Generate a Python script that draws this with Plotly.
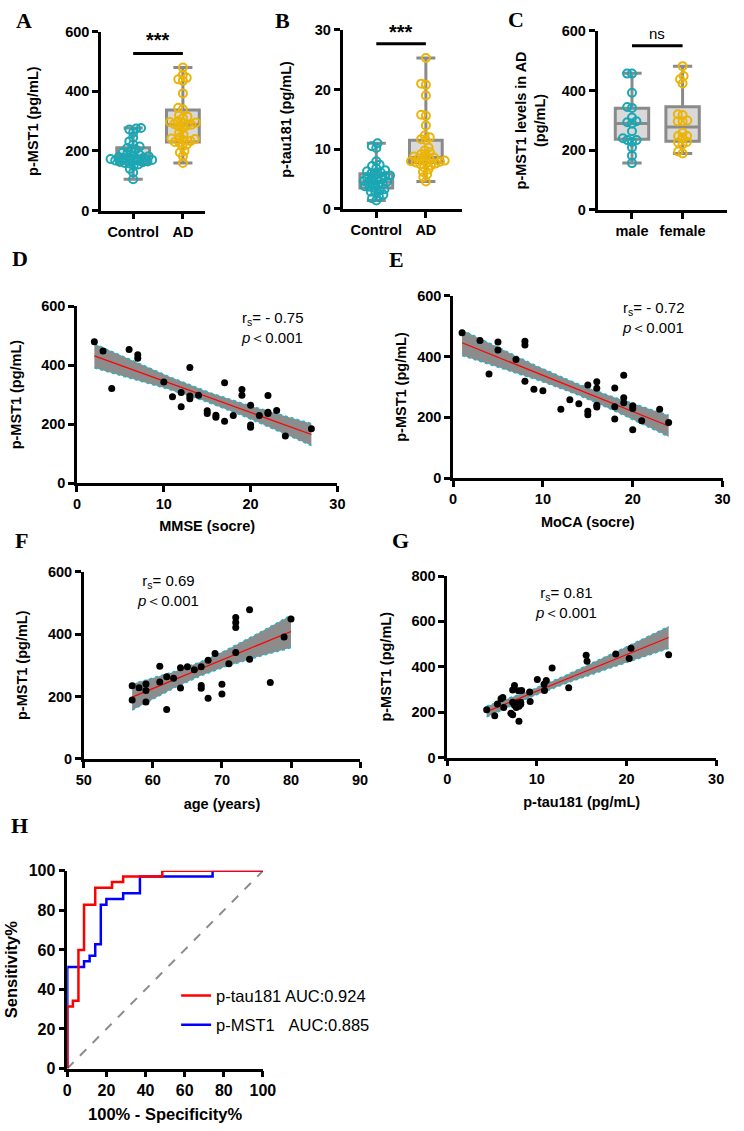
import numpy as np
import plotly.graph_objects as go

W, H = 744, 1131
FONT = "Arial, 'Liberation Sans', sans-serif"
SERIF = "'Times New Roman', 'Liberation Serif', serif"
TEAL = "#19A7B4"
YELLOW = "#EBB40A"
BOXLINE = "#8a8a8a"
BOXFILL = "#d9d9d9"

# ---------------- data ----------------
# Panel A: p-MST1 (pg/mL)
a_control = [277, 275, 272, 262, 245, 232, 222, 215, 210, 205, 200, 195, 190, 188, 185,
             182, 180, 178, 176, 175, 173, 172, 170, 168, 167, 165, 163, 162, 160, 158,
             155, 150, 140, 128, 105]
a_ad = [480, 455, 445, 440, 435, 393, 345, 340, 320, 315, 310, 300, 297, 295, 293, 290,
        288, 285, 282, 275, 262, 255, 245, 242, 240, 236, 233, 230, 228, 222, 215, 200,
        195, 182, 160]
a_box = {"q1": [157, 230], "median": [181, 288], "q3": [211, 337], "low": [105, 160], "high": [277, 480]}
a_cats = ["Control", "AD"]

# Panel B: p-tau181 (pg/mL)
b_control = [11.0, 10.5, 10.2, 8.0, 7.4, 7.2, 6.8, 6.5, 6.3, 6.1, 6.0, 5.8, 5.6, 5.5, 5.3,
             5.1, 5.0, 4.9, 4.7, 4.6, 4.5, 4.3, 4.2, 4.0, 3.8, 3.7, 3.5, 3.3, 3.1, 2.9,
             2.7, 2.4, 2.1, 1.8, 1.4]
b_ad = [25.3, 21.0, 20.8, 19.0, 15.8, 15.6, 14.0, 12.3, 12.0, 11.7, 11.5, 10.3, 9.8, 9.5,
        9.2, 9.0, 8.8, 8.6, 8.5, 8.4, 8.3, 8.1, 8.0, 7.9, 7.8, 7.7, 7.6, 7.5, 7.3, 7.0,
        6.6, 6.2, 5.8, 5.3, 4.6]
b_box = {"q1": [3.5, 7.8], "median": [4.5, 8.6], "q3": [5.9, 11.5], "low": [1.4, 4.6], "high": [11.0, 25.3]}

# Panel C: p-MST1 levels in AD by sex
c_male = [457, 457, 393, 345, 342, 310, 290, 294, 297, 264, 240, 234, 234, 228, 209, 182, 157]
c_female = [482, 449, 438, 424, 321, 318, 300, 297, 297, 259, 248, 248, 242, 228, 226, 220, 196, 189]
c_box = {"q1": [237, 230], "median": [290, 278], "q3": [341, 346], "low": [157, 189], "high": [458, 482]}
c_cats = ["male", "female"]

# Panel D: MMSE vs p-MST1
d_mmse = [2, 3, 4, 6, 7, 7, 10, 11, 12, 12, 13, 13, 13, 14, 15, 15, 16, 16, 17, 17, 18,
          19, 19, 20, 20, 20, 21, 22, 22, 22, 23, 24, 27]
d_mst1 = [479, 448, 321, 453, 435, 423, 343, 293, 307, 259, 392, 295, 286, 298, 245, 236,
          230, 223, 340, 210, 229, 317, 298, 264, 197, 189, 229, 297, 240, 236, 246, 160, 184]
d_stats = ["- 0.75", "0.001"]

# Panel E: MoCA vs p-MST1
e_moca = [1, 3, 4, 5, 5, 7, 8, 8, 8, 9, 10, 12, 13, 14, 15, 15, 15, 16, 16, 16, 16, 18,
          18, 18, 19, 19, 19, 20, 20, 20, 21, 23, 24]
e_mst1 = [479, 453, 343, 448, 422, 391, 451, 438, 319, 293, 288, 227, 258, 245, 307, 220,
          209, 317, 296, 240, 234, 297, 235, 195, 339, 265, 248, 238, 229, 159, 189, 227, 183]
e_stats = ["- 0.72", "0.001"]

# Panel F: age vs p-MST1
f_age = [57, 57, 58, 59, 59, 59, 61, 61, 62, 62, 63, 64, 64, 65, 66, 67, 67, 67, 68, 68,
         69, 70, 70, 71, 72, 72, 72, 72, 74, 74, 77, 79, 80]
f_mst1 = [234, 189, 228, 240, 219, 182, 297, 246, 263, 158, 258, 292, 227, 295, 286, 295,
          235, 226, 316, 194, 338, 239, 208, 305, 453, 437, 421, 341, 478, 319, 245, 391, 448]
f_stats = ["0.69", "0.001"]

# Panel G: p-tau181 vs p-MST1
g_ptau = [4.4, 5.3, 5.6, 6.0, 6.2, 6.3, 7.1, 7.3, 7.3, 7.5, 7.3, 7.5, 7.7, 7.8, 8.0, 8.2,
          7.95, 8.0, 8.3, 8.2, 9.2, 9.25, 10.05, 10.8, 10.85, 11.05, 11.7, 13.55, 15.5,
          15.6, 18.8, 20.3, 20.5, 24.7]
g_mst1 = [211, 184, 236, 259, 265, 221, 195, 189, 298, 318, 244, 230, 221, 240, 226, 244,
          294, 160, 296, 235, 289, 247, 344, 323, 296, 340, 395, 308, 451, 424, 456, 437,
          482, 453]
g_stats = ["0.81", "0.001"]

# Panel H: ROC curves (100% - specificity %, sensitivity %)
roc_tau_fpr = [0, 0, 2.86, 2.86, 5.71, 5.71, 8.57, 8.57, 14.29, 14.29, 22.86, 22.86,
               28.57, 28.57, 48.57, 48.57, 100]
roc_tau_tpr = [0, 31.4, 31.4, 34.3, 34.3, 60.0, 60.0, 82.9, 82.9, 91.4, 91.4, 94.3,
               94.3, 97.1, 97.1, 100, 100]
roc_mst_fpr = [0, 0, 8.57, 8.57, 11.43, 11.43, 14.29, 14.29, 17.14, 17.14, 20.0, 20.0,
               28.57, 28.57, 37.14, 37.14, 74.29, 74.29, 100]
roc_mst_tpr = [0, 51.4, 51.4, 54.3, 54.3, 57.1, 57.1, 62.9, 62.9, 82.9, 82.9, 85.7,
               85.7, 88.6, 88.6, 97.1, 97.1, 100, 100]
roc_names = ["p-tau181 AUC:0.924", "p-MST1\u00a0\u00a0\u00a0AUC:0.885"]

# ---------------- layout helpers ----------------
def xd(l, r):
    return [l / W, r / W]

def yd(top, bottom):
    return [1 - bottom / H, 1 - top / H]

# pixel boxes of each panel's plot area: (left, right, top, bottom)
P = {
    "A": (95.7, 203, 24, 205.7),
    "B": (344.3, 467, 22.3, 204),
    "C": (606.7, 740, 23.3, 205),
    "D": (71, 339, 302.7, 482.3),
    "E": (458, 735.3, 292.3, 477.3),
    "F": (78, 362.3, 572.3, 762.3),
    "G": (452, 728.7, 576.7, 761),
    "H": (61, 262.3, 876, 1076.7),
}

fig = go.Figure()

def swarm(values, px_per_y, px_per_x, d=5.0):
    vals = np.asarray(values, float)
    order = np.argsort(vals)
    placed = []
    off = np.zeros(len(vals))
    for i in order:
        y = vals[i] * px_per_y
        near = [(py, pxx) for py, pxx in placed if abs(py - y) < d]
        cands = [0.0]
        for py, pxx in near:
            dx = np.sqrt(d * d - (py - y) ** 2)
            cands += [pxx + dx, pxx - dx]
        valid = [c for c in cands
                 if all((c - pxx) ** 2 + (py - y) ** 2 >= d * d - 1e-6 for py, pxx in near)]
        best = min(valid, key=lambda c: (abs(c), c))
        placed.append((y, best))
        off[i] = best / px_per_x
    return off

def box_panel(ax, key, groups, box, yrange, xrange):
    l, r, t, b = P[key]
    ppy = (b - t) / (yrange[1] - yrange[0])
    ppx = (r - l) / (xrange[1] - xrange[0])
    for k in range(2):
        fig.add_trace(go.Box(
            x=[k], q1=[box["q1"][k]], median=[box["median"][k]], q3=[box["q3"][k]],
            lowerfence=[box["low"][k]], upperfence=[box["high"][k]],
            width=0.66, whiskerwidth=0.58, fillcolor=BOXFILL,
            line=dict(color=BOXLINE, width=3), boxpoints=False,
            showlegend=False, hoverinfo="skip", xaxis="x" + ax, yaxis="y" + ax))
    for k, (vals, col) in enumerate(zip(groups, [TEAL, YELLOW])):
        off = swarm(vals, ppy, ppx)
        fig.add_trace(go.Scatter(
            x=k + off, y=vals, mode="markers",
            marker=dict(symbol="circle-open", size=8, color=col, line=dict(width=2, color=col)),
            showlegend=False, cliponaxis=False, xaxis="x" + ax, yaxis="y" + ax))

def reg_panel(ax, xs, ys):
    x = np.asarray(xs, float)
    y = np.asarray(ys, float)
    n = len(x)
    b1, b0 = np.polyfit(x, y, 1)
    resid = y - (b0 + b1 * x)
    s = np.sqrt(np.sum(resid ** 2) / (n - 2))
    xbar = x.mean()
    sxx = np.sum((x - xbar) ** 2)
    grid = np.linspace(x.min(), x.max(), 60)
    fit = b0 + b1 * grid
    se = s * np.sqrt(1 / n + (grid - xbar) ** 2 / sxx)
    tval = 2.03
    lo, hi = fit - tval * se, fit + tval * se
    fig.add_trace(go.Scatter(x=grid, y=lo, mode="lines",
                             line=dict(color="#22b5c8", width=1.5, dash="dot"),
                             showlegend=False, hoverinfo="skip", xaxis="x" + ax, yaxis="y" + ax))
    fig.add_trace(go.Scatter(x=grid, y=hi, mode="lines", fill="tonexty",
                             fillcolor="#8c8c8c",
                             line=dict(color="#22b5c8", width=1.5, dash="dot"),
                             showlegend=False, hoverinfo="skip", xaxis="x" + ax, yaxis="y" + ax))
    fig.add_trace(go.Scatter(x=grid, y=fit, mode="lines", line=dict(color="#ff0000", width=1.2),
                             showlegend=False, hoverinfo="skip", xaxis="x" + ax, yaxis="y" + ax))
    fig.add_trace(go.Scatter(x=x, y=y, mode="markers",
                             marker=dict(color="black", size=7),
                             showlegend=False, cliponaxis=False, xaxis="x" + ax, yaxis="y" + ax))

# ---------------- traces ----------------
A_X = [-0.647, 1.45]
B_X = [-0.68, 1.725]
C_X = [-0.68, 1.88]
box_panel("", "A", [a_control, a_ad], a_box, [0, 600], A_X)
box_panel("2", "B", [b_control, b_ad], b_box, [0, 30], B_X)
box_panel("3", "C", [c_male, c_female], c_box, [0, 600], C_X)
reg_panel("4", d_mmse, d_mst1)
reg_panel("5", e_moca, e_mst1)
reg_panel("6", f_age, f_mst1)
reg_panel("7", g_ptau, g_mst1)

fig.add_trace(go.Scatter(x=[0, 100], y=[0, 100], mode="lines",
                         line=dict(color="#8c8c8c", width=2, dash="dash"),
                         showlegend=False, hoverinfo="skip", xaxis="x8", yaxis="y8"))
fig.add_trace(go.Scatter(x=roc_mst_fpr, y=roc_mst_tpr, mode="lines", name=roc_names[1],
                         legendgroup="b", legendrank=2,
                         line=dict(color="#0000ff", width=2.5), cliponaxis=False,
                         xaxis="x8", yaxis="y8"))
fig.add_trace(go.Scatter(x=roc_tau_fpr, y=roc_tau_tpr, mode="lines", name=roc_names[0],
                         legendgroup="a", legendrank=1,
                         line=dict(color="#ff0000", width=2.5), cliponaxis=False,
                         xaxis="x8", yaxis="y8"))

# ---------------- axes ----------------
def axstyle(size=14.5):
    return dict(showline=True, linecolor="black", linewidth=2.5, ticks="outside",
                ticklen=6, tickwidth=2.5, tickcolor="black", showgrid=False, zeroline=False,
                tickfont=dict(family=FONT, size=size, color="black", weight="bold"))

def tfont(size=14.5):
    return dict(family=FONT, size=size, color="black", weight="bold")

layout = dict(width=W, height=H, margin=dict(l=0, r=0, t=0, b=0),
              paper_bgcolor="white", plot_bgcolor="white", font=dict(family=FONT),
              showlegend=True)

def set_axes(suffix, key, xr, yr, xextra, yextra, ytitle, ystand, xtitle=None, xstand=10, size=14.5, tsize=14.5):
    l, r, t, b = P[key]
    xa = axstyle(size); xa.update(domain=xd(l, r), range=xr, anchor="y" + suffix, fixedrange=True)
    xa.update(xextra)
    if xtitle:
        xa["title"] = dict(text=xtitle, font=tfont(tsize), standoff=xstand)
    ya = axstyle(size); ya.update(domain=yd(t, b), range=yr, anchor="x" + suffix, fixedrange=True)
    ya.update(yextra)
    ya["title"] = dict(text=ytitle, font=tfont(tsize), standoff=ystand)
    layout["xaxis" + suffix] = xa
    layout["yaxis" + suffix] = ya

set_axes("", "A", A_X, [0, 600], dict(tickvals=[0, 1], ticktext=a_cats), dict(dtick=200),
         "p-MST1 (pg/mL)", 24)
set_axes("2", "B", B_X, [0, 30], dict(tickvals=[0, 1], ticktext=a_cats), dict(dtick=10),
         "p-tau181 (pg/mL)", 20)
set_axes("3", "C", C_X, [0, 600], dict(tickvals=[0, 1], ticktext=c_cats), dict(dtick=200),
         "p-MST1 levels in AD<br>(pg/mL)", 13)
set_axes("4", "D", [0, 30], [0, 600], dict(dtick=10), dict(dtick=200),
         "p-MST1 (pg/mL)", 17, "MMSE (socre)", 10)
set_axes("5", "E", [0, 30], [0, 600], dict(dtick=10), dict(dtick=200),
         "p-MST1 (pg/mL)", 8, "MoCA (socre)", 11)
set_axes("6", "F", [50, 90], [0, 600], dict(dtick=10), dict(dtick=200),
         "p-MST1 (pg/mL)", 17, "age (years)", 12)
set_axes("7", "G", [0, 30], [0, 800], dict(dtick=10), dict(dtick=200),
         "p-MST1 (pg/mL)", 17, "p-tau181 (pg/mL)", 12)
set_axes("8", "H", [0, 100], [0, 100], dict(dtick=20), dict(dtick=20),
         "Sensitivity%", 7, "100% - Specificity%", 10, size=16, tsize=16.5)

layout["legend"] = dict(x=173 / W, y=1 - 985 / H, xanchor="left", yanchor="top",
                        bgcolor="rgba(0,0,0,0)", borderwidth=0, traceorder="grouped",
                        tracegroupgap=5,
                        font=dict(family=FONT, size=16.5, color="black"))

# ---------------- annotations ----------------
ann = []
for letter, cx, cy in [("A", 16, 13), ("B", 282, 13), ("C", 523, 12), ("D", 12, 254),
                       ("E", 400, 255), ("F", 14, 541), ("G", 404, 541), ("H", 12, 830)]:
    ann.append(dict(text=letter, x=cx / W, y=1 - cy / H, xref="paper", yref="paper",
                    showarrow=False, xanchor="center", yanchor="middle",
                    font=dict(family=SERIF, size=22, color="black", weight="bold")))

def stat_text(vals):
    return "r<sub>s</sub>= " + vals[0] + "<br><i>p</i>\uff1c" + vals[1]

sfont = dict(family=FONT, size=15, color="black")
ann.append(dict(text=stat_text(d_stats), x=18.7, y=529, xref="x4", yref="y4", showarrow=False,
                xanchor="left", yanchor="middle", align="left", font=sfont))
ann.append(dict(text=stat_text(e_stats), x=18.6, y=528, xref="x5", yref="y5", showarrow=False,
                xanchor="left", yanchor="middle", align="left", font=sfont))
ann.append(dict(text=stat_text(f_stats), x=62.2, y=539, xref="x6", yref="y6", showarrow=False,
                xanchor="center", yanchor="middle", align="center", font=sfont))
ann.append(dict(text=stat_text(g_stats), x=13.3, y=684, xref="x7", yref="y7", showarrow=False,
                xanchor="center", yanchor="middle", align="center", font=sfont))

# significance markers
sig = [("", 527, 572, "***", 20, "bold"), ("2", 27.7, 29.6, "***", 20, "bold"),
       ("3", 550, 592, "ns", 15, "normal")]
shapes = []
for ax, ybar, ytxt, txt, fs, wt in sig:
    shapes.append(dict(type="line", x0=0, x1=1, y0=ybar, y1=ybar, xref="x" + ax, yref="y" + ax,
                       line=dict(color="black", width=3)))
    ann.append(dict(text=txt, x=0.5, y=ytxt, xref="x" + ax, yref="y" + ax, showarrow=False,
                    xanchor="center", yanchor="middle",
                    font=dict(family=FONT, size=fs, color="black", weight=wt)))

layout["annotations"] = ann
layout["shapes"] = shapes
fig.update_layout(**layout)
fig.write_html("out.html")
